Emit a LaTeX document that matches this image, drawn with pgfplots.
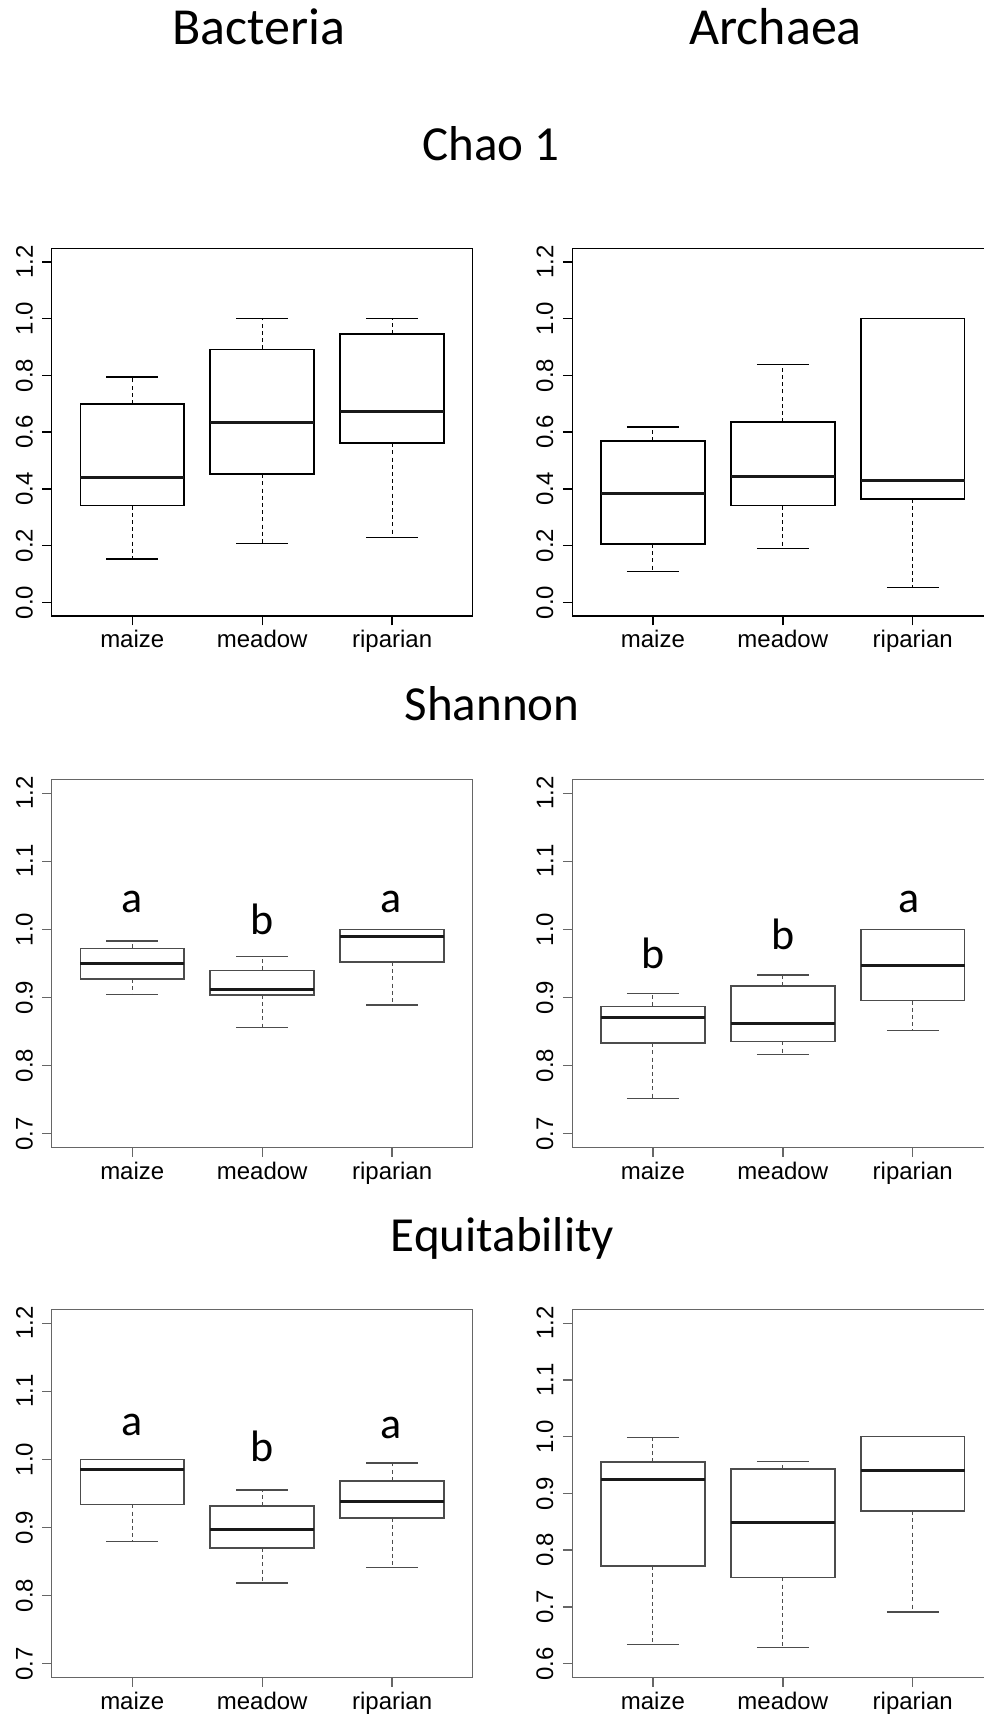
\documentclass[border=0pt]{standalone}
\usepackage{fontspec}
\setmainfont{Liberation Sans}
\newfontfamily\calibri{Carlito}
\usepackage{graphicx}
\usepackage{pgfplots}
\pgfplotsset{compat=1.18}
\usepgfplotslibrary{statistics}

\newcommand{\rl}[1]{\rotatebox{90}{#1}}
\pgfplotsset{
  rpanel/.style={
    scale only axis, width=210.5pt, height=183.85pt,
    anchor=south west,
    xmin=0.38, xmax=3.62,
    xtick={1,2,3}, xticklabels={maize,meadow,riparian},
    tick align=outside, xtick pos=left, ytick pos=left,
    major tick length=4.75pt,
    every tick/.style={line width=0.7pt, #1},
    axis line style={line width=0.75pt, #1},
    ticklabel style={font=\fontsize{12}{14}\selectfont, text=black},
    yticklabel style={anchor=east, inner sep=0pt, xshift=-4.5pt},
    xticklabel style={anchor=base, yshift=-11.25pt},
    clip=false,
  },
  rbox/.style={
    #1, line width=0.75pt, solid,
    boxplot/draw direction=y,
    boxplot/box extend=0.8, boxplot/whisker extend=0.4,
    boxplot/draw/median/.code={%
      \draw[line width=1.5pt, black!90] (boxplot box cs:\pgfplotsboxplotvalue{median},0) -- (boxplot box cs:\pgfplotsboxplotvalue{median},1);},
    boxplot/draw/lower whisker/.code={%
      \draw[#1, line width=0.55pt, dash pattern=on 2pt off 1.6pt] (boxplot cs:\pgfplotsboxplotvalue{lower quartile}) -- (boxplot cs:\pgfplotsboxplotvalue{lower whisker});
      \draw[#1, line width=0.6pt] (boxplot whisker cs:\pgfplotsboxplotvalue{lower whisker},0) -- (boxplot whisker cs:\pgfplotsboxplotvalue{lower whisker},1);},
    boxplot/draw/upper whisker/.code={%
      \draw[#1, line width=0.55pt, dash pattern=on 2pt off 1.6pt] (boxplot cs:\pgfplotsboxplotvalue{upper quartile}) -- (boxplot cs:\pgfplotsboxplotvalue{upper whisker});
      \draw[#1, line width=0.6pt] (boxplot whisker cs:\pgfplotsboxplotvalue{upper whisker},0) -- (boxplot whisker cs:\pgfplotsboxplotvalue{upper whisker},1);},
  },
  chao/.style={ymin=-0.048, ymax=1.248, ytick={0,0.2,0.4,0.6,0.8,1.0,1.2},
    yticklabels={\rl{0.0},\rl{0.2},\rl{0.4},\rl{0.6},\rl{0.8},\rl{1.0},\rl{1.2}}},
  shan/.style={ymin=0.68, ymax=1.22, ytick={0.7,0.8,0.9,1.0,1.1,1.2},
    yticklabels={\rl{0.7},\rl{0.8},\rl{0.9},\rl{1.0},\rl{1.1},\rl{1.2}}},
  equa/.style={ymin=0.576, ymax=1.224, ytick={0.6,0.7,0.8,0.9,1.0,1.1,1.2},
    yticklabels={\rl{0.6},\rl{0.7},\rl{0.8},\rl{0.9},\rl{1.0},\rl{1.1},\rl{1.2}}},
}
\newcommand{\lett}[3]{\node[anchor=base, font=\calibri\fontsize{22}{24}\selectfont, inner sep=0pt] at (axis cs:#1,#2) {#3};}

\begin{document}
\begin{tikzpicture}
% titles
\node[anchor=base, font=\calibri\fontsize{26}{30}\selectfont, inner sep=0pt] at (129.5pt,836pt) {Bacteria};
\node[anchor=base, font=\calibri\fontsize{26}{30}\selectfont, inner sep=0pt] at (387.75pt,836pt) {Archaea};
\node[anchor=base, font=\calibri\fontsize{24.5}{28}\selectfont, inner sep=0pt] at (245.5pt,778.3pt) {Chao 1};
\node[anchor=base, font=\calibri\fontsize{24.5}{28}\selectfont, inner sep=0pt] at (246pt,498.4pt) {Shannon};
\node[anchor=base, font=\calibri\fontsize{24.5}{28}\selectfont, inner sep=0pt] at (251.25pt,232.8pt) {Equitability};

% Chao 1, Bacteria
\begin{axis}[rpanel=black, chao, at={(25.85pt,550.5pt)}]
\addplot[rbox=black, boxplot prepared={lower whisker=0.153, lower quartile=0.341, median=0.441, upper quartile=0.699, upper whisker=0.794, draw position=1}] coordinates {};
\addplot[rbox=black, boxplot prepared={lower whisker=0.208, lower quartile=0.452, median=0.634, upper quartile=0.892, upper whisker=1.0, draw position=2}] coordinates {};
\addplot[rbox=black, boxplot prepared={lower whisker=0.228, lower quartile=0.561, median=0.671, upper quartile=0.946, upper whisker=1.0, draw position=3}] coordinates {};
\end{axis}

% Chao 1, Archaea
\begin{axis}[rpanel=black, chao, at={(286.15pt,550.5pt)}]
\addplot[rbox=black, boxplot prepared={lower whisker=0.110, lower quartile=0.206, median=0.384, upper quartile=0.569, upper whisker=0.618, draw position=1}] coordinates {};
\addplot[rbox=black, boxplot prepared={lower whisker=0.190, lower quartile=0.341, median=0.443, upper quartile=0.635, upper whisker=0.837, draw position=2}] coordinates {};
\addplot[rbox=black, boxplot prepared={lower whisker=0.052, lower quartile=0.364, median=0.431, upper quartile=1.0, upper whisker=1.0, draw position=3}] coordinates {};
\end{axis}

% Shannon, Bacteria
\begin{axis}[rpanel=black!60, shan, at={(25.85pt,284.85pt)}]
\addplot[rbox=black!70, boxplot prepared={lower whisker=0.9045, lower quartile=0.927, median=0.950, upper quartile=0.972, upper whisker=0.983, draw position=1}] coordinates {};
\addplot[rbox=black!70, boxplot prepared={lower whisker=0.8557, lower quartile=0.904, median=0.9115, upper quartile=0.940, upper whisker=0.960, draw position=2}] coordinates {};
\addplot[rbox=black!70, boxplot prepared={lower whisker=0.889, lower quartile=0.952, median=0.990, upper quartile=1.0, upper whisker=1.0, draw position=3}] coordinates {};
\lett{1}{1.025}{a}
\lett{2}{0.993}{b}
\lett{2.99}{1.025}{a}
\end{axis}

% Shannon, Archaea
\begin{axis}[rpanel=black!60, shan, at={(286.15pt,284.85pt)}]
\addplot[rbox=black!70, boxplot prepared={lower whisker=0.752, lower quartile=0.833, median=0.871, upper quartile=0.887, upper whisker=0.906, draw position=1}] coordinates {};
\addplot[rbox=black!70, boxplot prepared={lower whisker=0.8165, lower quartile=0.8355, median=0.862, upper quartile=0.917, upper whisker=0.933, draw position=2}] coordinates {};
\addplot[rbox=black!70, boxplot prepared={lower whisker=0.8517, lower quartile=0.8953, median=0.947, upper quartile=1.0, upper whisker=1.0, draw position=3}] coordinates {};
\lett{1}{0.942}{b}
\lett{2}{0.970}{b}
\lett{2.97}{1.025}{a}
\end{axis}

% Equitability, Bacteria
\begin{axis}[rpanel=black!60, shan, at={(25.85pt,19.85pt)}]
\addplot[rbox=black!70, boxplot prepared={lower whisker=0.8789, lower quartile=0.934, median=0.9857, upper quartile=1.0, upper whisker=1.0, draw position=1}] coordinates {};
\addplot[rbox=black!70, boxplot prepared={lower whisker=0.8185, lower quartile=0.870, median=0.897, upper quartile=0.9313, upper whisker=0.955, draw position=2}] coordinates {};
\addplot[rbox=black!70, boxplot prepared={lower whisker=0.841, lower quartile=0.914, median=0.9387, upper quartile=0.9685, upper whisker=0.9946, draw position=3}] coordinates {};
\lett{1}{1.035}{a}
\lett{2}{0.9965}{b}
\lett{2.99}{1.030}{a}
\end{axis}

% Equitability, Archaea
\begin{axis}[rpanel=black!60, equa, at={(286.15pt,19.85pt)}]
\addplot[rbox=black!70, boxplot prepared={lower whisker=0.634, lower quartile=0.772, median=0.925, upper quartile=0.955, upper whisker=0.998, draw position=1}] coordinates {};
\addplot[rbox=black!70, boxplot prepared={lower whisker=0.629, lower quartile=0.752, median=0.849, upper quartile=0.943, upper whisker=0.9565, draw position=2}] coordinates {};
\addplot[rbox=black!70, boxplot prepared={lower whisker=0.691, lower quartile=0.869, median=0.941, upper quartile=1.0, upper whisker=1.0, draw position=3}] coordinates {};
\end{axis}

\pgfresetboundingbox
\path[use as bounding box] (0pt,0pt) rectangle (492pt,858.5pt);
\end{tikzpicture}
\end{document}
